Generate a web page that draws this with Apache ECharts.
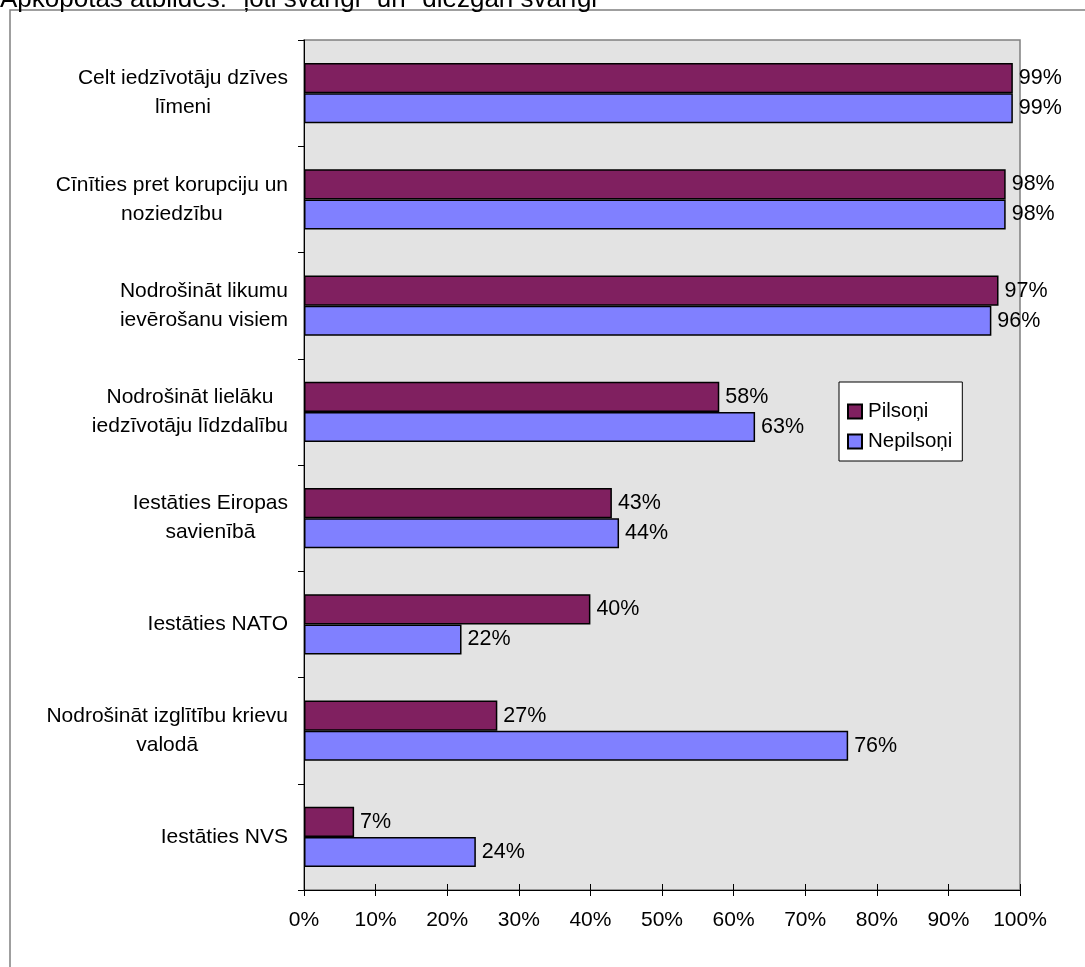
<!DOCTYPE html>
<html>
<head>
<meta charset="utf-8">
<script src="https://cdn.jsdelivr.net/npm/echarts@6/dist/echarts.min.js"></script>
<style>
html,body{margin:0;padding:0;background:#fff;}
#c{width:1085px;height:967px;}
</style>
</head>
<body>
<div id="c"></div>
<script>
const titleText = 'Apkopotas atbildes: "ļoti svarīgi" un "diezgan svarīgi"';
const categories = [
  'Celt iedzīvotāju dzīves\nlīmeni',
  'Cīnīties pret korupciju un\nnoziedzību',
  'Nodrošināt likumu\nievērošanu visiem',
  'Nodrošināt lielāku\niedzīvotāju līdzdalību',
  'Iestāties Eiropas\nsavienībā',
  'Iestāties NATO',
  'Nodrošināt izglītību krievu\nvalodā',
  'Iestāties NVS'
];
const seriesNames = ['Pilsoņi', 'Nepilsoņi'];
const pilsoni = [99, 98, 97, 58, 43, 40, 27, 7];
const nepilsoni = [99, 98, 96, 63, 44, 22, 76, 24];
const xTicks = [0, 10, 20, 30, 40, 50, 60, 70, 80, 90, 100];

const FONT = 'Liberation Sans, Arial, sans-serif';
const chart = echarts.init(document.getElementById('c'), null, {renderer: 'canvas'});

const labelStyle = {
  show: true, position: 'right', distance: 6,
  formatter: p => p.value + '%',
  color: '#000', fontFamily: FONT, fontSize: 21.5
};

chart.setOption({
  animation: false,
  backgroundColor: '#fff',
  graphic: [
    {type: 'rect', shape: {x: 10, y: 10, width: 1200, height: 1200},
     style: {fill: 'none', stroke: '#808080', lineWidth: 1.5}, z: -10},
    {type: 'text', x: 0, y: 13,
     style: {text: titleText, font: '26px ' + FONT, fill: '#000', verticalAlign: 'bottom', textVerticalAlign: 'bottom'}}
  ],
  grid: {left: 304, right: 65, top: 40, bottom: 77, show: true,
         backgroundColor: '#e3e3e3', borderColor: '#808080', borderWidth: 1.5},
  legend: {
    data: seriesNames, orient: 'vertical', left: 839, top: 382,
    backgroundColor: '#fff', borderColor: '#000', borderWidth: 1,
    padding: [19, 10, 9, 8], itemGap: 9, itemWidth: 14, itemHeight: 14,
    icon: 'rect',
    textStyle: {fontFamily: FONT, fontSize: 20.5, color: '#000', lineHeight: 20, padding: [0,0,0,1]}
  },
  xAxis: [{
    type: 'value', min: 0, max: 100, interval: 10,
    axisLine: {show: true, lineStyle: {color: '#000', width: 1}},
    axisTick: {show: true, length: 6, lineStyle: {color: '#000'}},
    axisLabel: {formatter: v => v + '%', color: '#000', fontFamily: FONT, fontSize: 21, margin: 20},
    splitLine: {show: false}
  }, {
    type: 'value', min: 0, max: 100, interval: 10, position: 'bottom',
    axisLine: {show: false},
    axisTick: {show: true, inside: true, length: 6, lineStyle: {color: '#000'}},
    axisLabel: {show: false}, splitLine: {show: false}
  }],
  yAxis: {
    type: 'category', data: categories, inverse: true,
    axisLine: {show: true, lineStyle: {color: '#000', width: 1}},
    axisTick: {show: true, length: 6, lineStyle: {color: '#000'}},
    axisLabel: {
      color: '#000', fontFamily: FONT, fontSize: 21, margin: 16, align: 'right',
      formatter: v => v.split('\n').map(l => '{c|' + l + '}').join('\n'),
      rich: {c: {align: 'center', fontFamily: FONT, fontSize: 21, lineHeight: 29, color: '#000'}}
    }
  },
  series: [{
    name: seriesNames[0], type: 'bar', data: pilsoni,
    barGap: '0%', barCategoryGap: '43.5%',
    itemStyle: {color: '#802060', borderColor: '#000', borderWidth: 1.5},
    label: labelStyle
  }, {
    name: seriesNames[1], type: 'bar', data: nepilsoni,
    barGap: '0%', barCategoryGap: '43.5%',
    itemStyle: {color: '#8080ff', borderColor: '#000', borderWidth: 1.5},
    label: labelStyle
  }]
});
</script>
</body>
</html>
